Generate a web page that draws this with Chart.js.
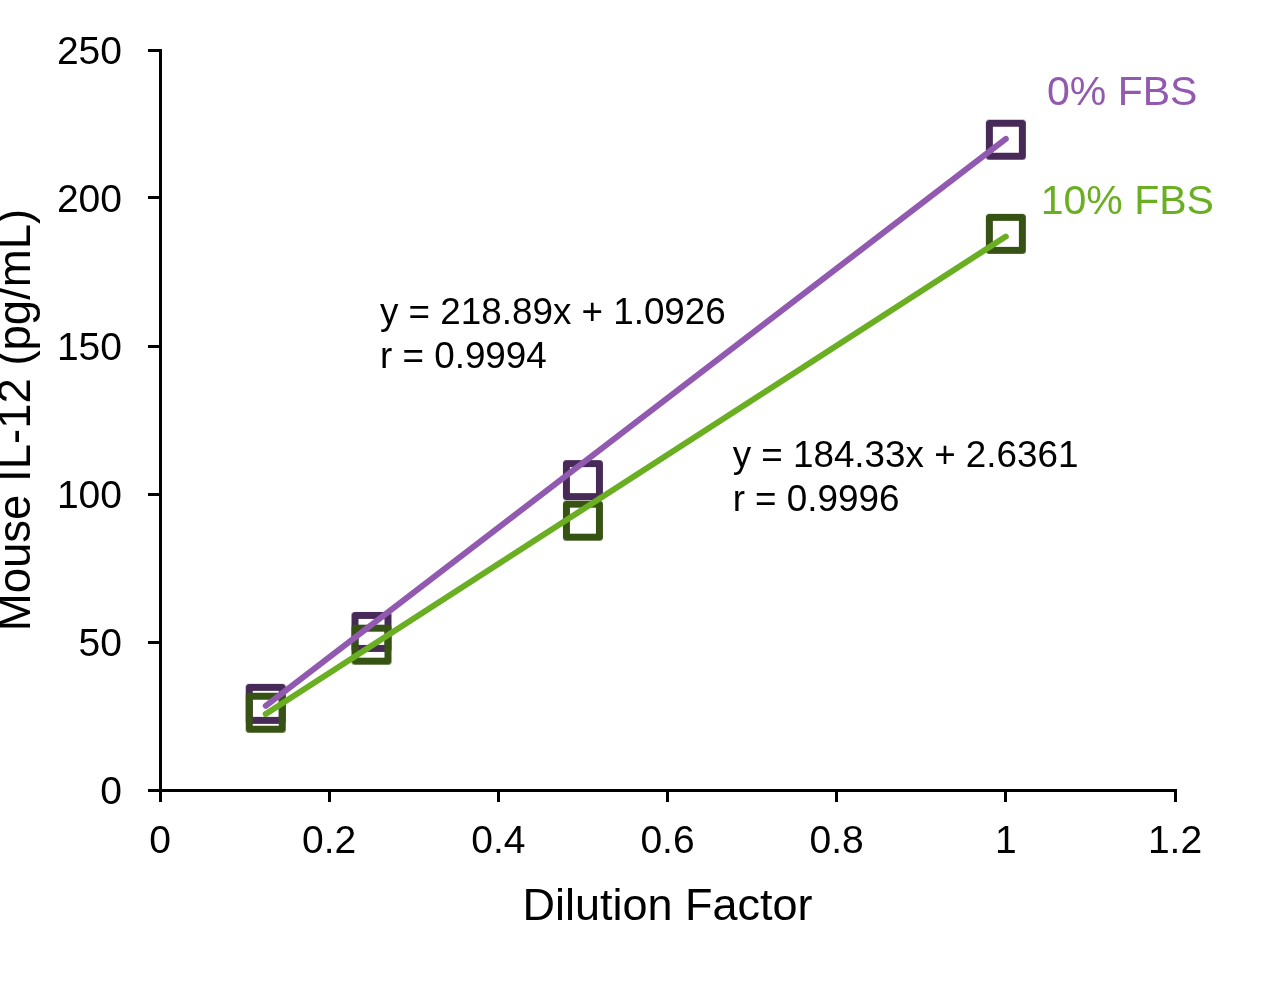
<!DOCTYPE html>
<html>
<head>
<meta charset="utf-8">
<title>Mouse IL-12 dilution linearity</title>
<script src="https://cdn.jsdelivr.net/npm/chart.js@4/dist/chart.umd.min.js"></script>
<style>
    html, body { margin: 0; padding: 0; background: #fff; }
    #wrap { width: 1270px; height: 986px; }
</style>
</head>
<body>
<div id="wrap"><canvas id="chart" width="1270" height="986"></canvas></div>
<script>
// 稀释倍数
const dilutions = [0.125, 0.25, 0.5, 1];
// 测得的 IL-12 浓度 (pg/mL)
const fbs0Values = [29.1, 53.4, 104.7, 219.7];
const fbs10Values = [26.1, 49.1, 91.0, 187.9];
// 趋势线两端 (x = 0.125 和 x = 1)
const fitX = [0.125, 1];
const fit0Values = [28.45, 219.98];
const fit10Values = [25.68, 186.97];
// 坐标轴刻度
const xTickLabels = ['0', '0.2', '0.4', '0.6', '0.8', '1', '1.2'];
const yTickLabels = ['0', '50', '100', '150', '200', '250'];
// 文字标注
const seriesNames = ['0% FBS', '10% FBS'];
const equations = [
    ['y = 218.89x + 1.0926', 'r = 0.9994'],
    ['y = 184.33x + 2.6361', 'r = 0.9996']
];

const FONT = '"Liberation Sans", Arial, sans-serif';
const purpleDark = '#482a58';
const greenDark = '#375314';
const purpleLine = '#915ab0';
const greenLine = '#6aae22';

// 空心方块标记 (圆角)
function makeSquare(color) {
    const c = document.createElement('canvas');
    c.width = 46;
    c.height = 46;
    const g = c.getContext('2d');
    g.strokeStyle = color;
    g.lineWidth = 7;
    g.lineJoin = 'round';
    g.strokeRect(6.5, 6.5, 33, 33);
    return c;
}

function toPoints(xs, ys) {
    return xs.map((x, i) => ({ x: x, y: ys[i] }));
}

// 标注文字插件
const labelPlugin = {
    id: 'labels',
    afterDraw(chart) {
        const ctx = chart.ctx;
        const sx = chart.scales.x;
        const sy = chart.scales.y;
        ctx.save();
        ctx.textAlign = 'left';
        ctx.textBaseline = 'alphabetic';

        ctx.font = '36.8px ' + FONT;
        ctx.fillStyle = '#000';
        const eqPos = [[0.2601, 157.4], [0.677, 109.0]];
        equations.forEach((lines, i) => {
            const px = sx.getPixelForValue(eqPos[i][0]);
            const py = sy.getPixelForValue(eqPos[i][1]);
            lines.forEach((t, j) => ctx.fillText(t, px, py + j * 44));
        });

        ctx.font = '41px ' + FONT;
        const namePos = [[1.0487, 231.4], [1.0413, 194.6]];
        const nameColors = [purpleLine, greenLine];
        seriesNames.forEach((t, i) => {
            ctx.fillStyle = nameColors[i];
            ctx.fillText(t, sx.getPixelForValue(namePos[i][0]), sy.getPixelForValue(namePos[i][1]));
        });
        ctx.restore();
    }
};

const ctx = document.getElementById('chart').getContext('2d');
new Chart(ctx, {
    type: 'scatter',
    data: {
        datasets: [{
            label: seriesNames[0],
            data: toPoints(dilutions, fbs0Values),
            pointStyle: makeSquare(purpleDark),
            order: 4
        }, {
            label: seriesNames[1],
            data: toPoints(dilutions, fbs10Values),
            pointStyle: makeSquare(greenDark),
            order: 3
        }, {
            type: 'line',
            label: 'fit0',
            data: toPoints(fitX, fit0Values),
            borderColor: purpleLine,
            borderWidth: 6,
            borderCapStyle: 'round',
            pointRadius: 0,
            fill: false,
            order: 2
        }, {
            type: 'line',
            label: 'fit10',
            data: toPoints(fitX, fit10Values),
            borderColor: greenLine,
            borderWidth: 6,
            borderCapStyle: 'round',
            pointRadius: 0,
            fill: false,
            order: 1
        }]
    },
    options: {
        responsive: false,
        animation: false,
        events: [],
        layout: {
            padding: { left: 0, top: 50, right: 95, bottom: 0 }
        },
        plugins: {
            legend: { display: false },
            tooltip: { enabled: false }
        },
        scales: {
            x: {
                type: 'linear',
                min: 0,
                max: 1.2,
                afterFit(scale) { scale.height = 196; },
                border: { color: '#000', width: 3 },
                grid: { drawOnChartArea: false, drawTicks: true, tickLength: 12, color: '#000', lineWidth: 3 },
                ticks: {
                    stepSize: 0.2,
                    padding: 17,
                    color: '#000',
                    font: { family: FONT, size: 39 },
                    callback: (v, i) => xTickLabels[i]
                },
                title: {
                    display: true,
                    text: 'Dilution Factor',
                    color: '#000',
                    font: { family: FONT, size: 45 },
                    padding: { top: 0, bottom: 51 }
                }
            },
            y: {
                type: 'linear',
                min: 0,
                max: 250,
                afterFit(scale) { scale.width = 160; },
                border: { color: '#000', width: 3 },
                grid: { drawOnChartArea: false, drawTicks: true, tickLength: 12, color: '#000', lineWidth: 3 },
                ticks: {
                    stepSize: 50,
                    padding: 26,
                    labelOffset: 3,
                    color: '#000',
                    font: { family: FONT, size: 39 },
                    callback: (v, i) => yTickLabels[i]
                },
                title: {
                    display: true,
                    text: 'Mouse IL-12 (pg/mL)',
                    color: '#000',
                    font: { family: FONT, size: 45.5, lineHeight: 0.76 },
                    padding: { top: 0, bottom: 0 }
                }
            }
        }
    },
    plugins: [labelPlugin]
});
</script>
</body>
</html>
